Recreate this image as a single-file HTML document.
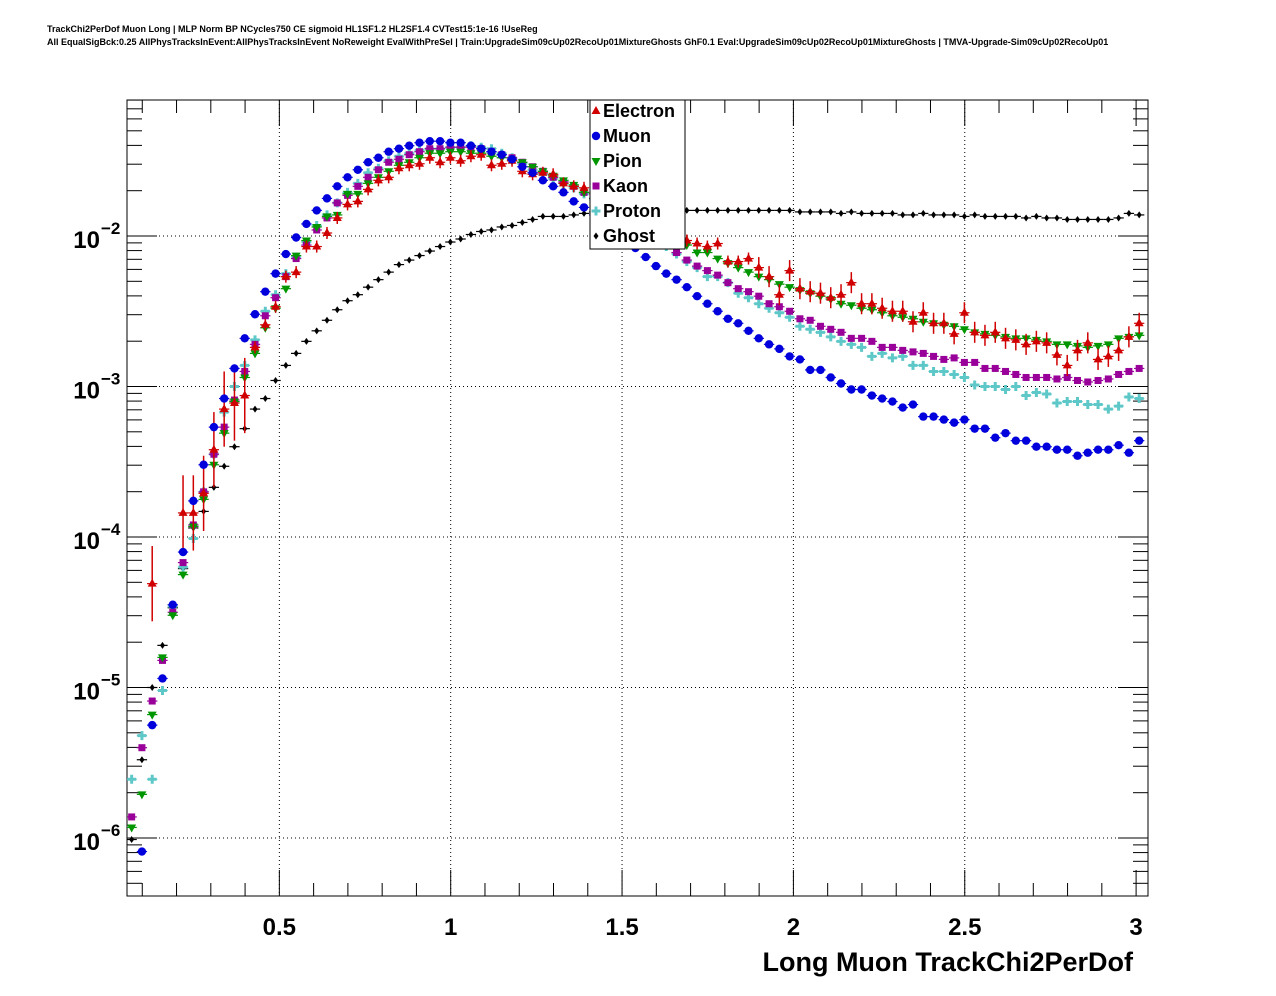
<!DOCTYPE html>
<html><head><meta charset="utf-8"><style>
html,body{margin:0;padding:0;background:#fff;}
svg{display:block;font-family:"Liberation Sans",sans-serif;}
</style></head><body>
<svg id="chart" width="1276" height="996" viewBox="0 0 1276 996" xmlns="http://www.w3.org/2000/svg">
<rect x="0" y="0" width="1276" height="996" fill="#fff"/>
<text x="47" y="32" font-size="9" font-weight="bold">TrackChi2PerDof Muon Long | MLP Norm BP NCycles750 CE sigmoid HL1SF1.2 HL2SF1.4 CVTest15:1e-16 !UseReg</text>
<text x="47" y="45" font-size="9" font-weight="bold">All EqualSigBck:0.25 AllPhysTracksInEvent:AllPhysTracksInEvent NoReweight EvalWithPreSel | Train:UpgradeSim09cUp02RecoUp01MixtureGhosts GhF0.1 Eval:UpgradeSim09cUp02RecoUp01MixtureGhosts | TMVA-Upgrade-Sim09cUp02RecoUp01</text>
<rect x="127" y="100" width="1021" height="796" fill="none" stroke="#000" stroke-width="1"/>
<g id="grid"></g>
<g id="axes"></g>
<g id="marks"></g>
<text x="1133" y="971" font-size="27" font-weight="bold" text-anchor="end">Long Muon TrackChi2PerDof</text>
<g>
<rect x="590" y="100" width="95" height="149" fill="#fff" stroke="#000" stroke-width="1"/>
<g id="legend-items"></g>
</g>
</svg>
<script>
// bin centers: 0.069 + 0.03*i (99 bins); values given as log10 of normalized entries
const binStart = 0.069, binWidth = 0.03;
const seriesNames = ["Electron","Muon","Pion","Kaon","Proton","Ghost"];
const xTicks = [0.5,1,1.5,2,2.5,3];
const xTickLabels = ["0.5","1","1.5","2","2.5","3"];
const yDecades = [-2,-3,-4,-5,-6];
const N = null;
const electronLog = [N,N,-4.31,N,N,-3.84,-3.84,-3.71,-3.42,-3.15,-3.11,-3.06,-2.74,-2.59,-2.47,-2.27,-2.24,-2.07,-2.07,-1.98,-1.88,-1.79,-1.77,-1.69,-1.63,-1.61,-1.55,-1.53,-1.52,-1.48,-1.51,-1.48,-1.50,-1.47,-1.46,-1.53,-1.52,-1.50,-1.57,-1.59,-1.58,-1.59,-1.65,-1.67,-1.68,-1.72,-1.76,-1.80,-1.84,-1.87,-1.90,-1.93,-1.96,-1.99,-2.03,-2.05,-2.07,-2.05,-2.17,-2.17,-2.15,-2.21,-2.27,-2.39,-2.23,-2.35,-2.37,-2.38,-2.41,-2.39,-2.31,-2.45,-2.45,-2.48,-2.50,-2.50,-2.57,-2.51,-2.58,-2.58,-2.65,-2.51,-2.64,-2.66,-2.64,-2.68,-2.69,-2.72,-2.70,-2.71,-2.79,-2.86,-2.76,-2.71,-2.82,-2.80,-2.76,-2.67,-2.58];
const muonLog = [N,-6.09,-5.25,-4.94,-4.45,-4.10,-3.76,-3.52,-3.27,-3.08,-2.88,-2.68,-2.52,-2.37,-2.25,-2.12,-2.01,-1.92,-1.83,-1.75,-1.67,-1.61,-1.56,-1.51,-1.48,-1.44,-1.42,-1.40,-1.38,-1.37,-1.37,-1.38,-1.38,-1.40,-1.42,-1.44,-1.46,-1.49,-1.54,-1.58,-1.63,-1.67,-1.71,-1.77,-1.81,-1.86,-1.91,-1.96,-2.02,-2.08,-2.14,-2.20,-2.25,-2.29,-2.34,-2.40,-2.45,-2.50,-2.55,-2.58,-2.63,-2.68,-2.72,-2.75,-2.80,-2.82,-2.89,-2.89,-2.94,-2.98,-3.02,-3.02,-3.06,-3.08,-3.10,-3.14,-3.12,-3.20,-3.20,-3.22,-3.24,-3.22,-3.28,-3.28,-3.34,-3.31,-3.36,-3.36,-3.40,-3.40,-3.42,-3.42,-3.46,-3.44,-3.42,-3.42,-3.39,-3.44,-3.36];
const pionLog = [-5.93,-5.71,-5.18,-4.80,-4.52,-4.25,-3.93,-3.75,-3.52,-3.31,-3.10,-2.94,-2.78,-2.61,-2.48,-2.35,-2.13,-2.03,-1.94,-1.87,-1.86,-1.72,-1.72,-1.65,-1.61,-1.57,-1.53,-1.51,-1.48,-1.45,-1.45,-1.44,-1.44,-1.45,-1.45,-1.47,-1.48,-1.50,-1.51,-1.54,-1.57,-1.60,-1.63,-1.66,-1.71,-1.75,-1.79,-1.83,-1.87,-1.91,-1.95,-1.98,-2.01,-2.04,-2.06,-2.11,-2.11,-2.15,-2.18,-2.21,-2.24,-2.27,-2.29,-2.32,-2.34,-2.36,-2.38,-2.40,-2.42,-2.45,-2.46,-2.48,-2.49,-2.51,-2.53,-2.54,-2.55,-2.57,-2.58,-2.59,-2.60,-2.62,-2.64,-2.65,-2.66,-2.67,-2.68,-2.68,-2.69,-2.70,-2.72,-2.72,-2.73,-2.74,-2.73,-2.72,-2.68,-2.67,-2.66];
const kaonLog = [-5.86,-5.40,-5.09,-4.82,-4.50,-4.17,-3.92,-3.70,-3.45,-3.27,-3.09,-2.90,-2.72,-2.53,-2.41,-2.27,-2.15,-2.06,-1.96,-1.88,-1.78,-1.73,-1.67,-1.61,-1.56,-1.51,-1.49,-1.46,-1.44,-1.42,-1.42,-1.41,-1.41,-1.41,-1.42,-1.44,-1.46,-1.48,-1.51,-1.54,-1.57,-1.61,-1.64,-1.67,-1.71,-1.75,-1.79,-1.83,-1.87,-1.91,-1.95,-1.99,-2.04,-2.11,-2.16,-2.20,-2.23,-2.26,-2.31,-2.35,-2.37,-2.40,-2.45,-2.47,-2.50,-2.55,-2.56,-2.60,-2.62,-2.64,-2.68,-2.68,-2.70,-2.74,-2.74,-2.76,-2.77,-2.78,-2.80,-2.82,-2.81,-2.84,-2.84,-2.88,-2.88,-2.90,-2.92,-2.94,-2.94,-2.94,-2.95,-2.94,-2.96,-2.97,-2.96,-2.95,-2.92,-2.90,-2.88];
const protonLog = [-5.61,-5.32,-5.61,-5.02,-4.46,-4.20,-4.01,-3.70,-3.45,-3.17,-3.00,-2.86,-2.69,-2.50,-2.39,-2.25,-2.14,-2.04,-1.93,-1.86,-1.78,-1.71,-1.65,-1.58,-1.55,-1.50,-1.47,-1.45,-1.43,-1.42,-1.42,-1.41,-1.41,-1.40,-1.41,-1.42,-1.45,-1.48,-1.52,-1.56,-1.59,-1.62,-1.65,-1.68,-1.72,-1.76,-1.80,-1.84,-1.88,-1.92,-1.97,-2.02,-2.07,-2.12,-2.17,-2.21,-2.27,-2.27,-2.31,-2.38,-2.41,-2.45,-2.48,-2.51,-2.54,-2.60,-2.62,-2.64,-2.67,-2.70,-2.72,-2.74,-2.80,-2.78,-2.81,-2.80,-2.86,-2.86,-2.90,-2.90,-2.92,-2.94,-2.99,-3.00,-3.00,-3.02,-3.00,-3.06,-3.04,-3.05,-3.11,-3.10,-3.10,-3.12,-3.12,-3.15,-3.13,-3.07,-3.08];
const ghostLog = [-6.01,-5.48,-5.00,-4.72,-4.47,-4.21,-3.94,-3.83,-3.67,-3.53,-3.40,-3.28,-3.15,-3.08,-2.96,-2.86,-2.78,-2.70,-2.63,-2.56,-2.49,-2.43,-2.39,-2.34,-2.29,-2.24,-2.19,-2.16,-2.13,-2.10,-2.07,-2.04,-2.02,-1.99,-1.97,-1.96,-1.94,-1.93,-1.91,-1.89,-1.87,-1.87,-1.87,-1.86,-1.85,-1.84,-1.83,-1.83,-1.82,-1.82,-1.82,-1.82,-1.82,-1.82,-1.83,-1.83,-1.83,-1.83,-1.83,-1.83,-1.83,-1.83,-1.83,-1.83,-1.83,-1.84,-1.84,-1.84,-1.84,-1.85,-1.84,-1.85,-1.85,-1.85,-1.85,-1.86,-1.86,-1.85,-1.86,-1.86,-1.86,-1.87,-1.86,-1.87,-1.87,-1.87,-1.87,-1.88,-1.87,-1.88,-1.88,-1.89,-1.89,-1.89,-1.89,-1.89,-1.88,-1.85,-1.86];

const NS="http://www.w3.org/2000/svg";
const PX0=127, PX1=1148, PY0=100, PY1=896;
function xPos(v){ return 108 + v*342.7; }
function yPos(lg){ return 236 + (-2 - lg)*150.5; }
function mk(tag, attrs, parent){ const e=document.createElementNS(NS,tag); for(const k in attrs) e.setAttribute(k, attrs[k]); parent.appendChild(e); return e; }
const grid=document.getElementById('grid'), axes=document.getElementById('axes'), marks=document.getElementById('marks');

xTicks.forEach(v=>{ if(v>=3) return; const l=mk('line',{x1:xPos(v),x2:xPos(v),y1:PY0,y2:PY1,stroke:'#000','stroke-width':1,'stroke-dasharray':'1,3'},grid);

 });
yDecades.forEach(d=>{ const l=mk('line',{x1:PX0,x2:PX1,y1:yPos(d),y2:yPos(d),stroke:'#000','stroke-width':1,'stroke-dasharray':'1,3'},grid);

 });

for(let t=1;t<=30;t++){ const v=t/10; const x=xPos(v); if(x<PX0||x>PX1) continue; const major=(t%5===0); const len=major?26:13;
 const a=mk('line',{x1:x,x2:x,y1:PY1,y2:PY1-len,stroke:'#000','stroke-width':1},axes);
 
 
 const b=mk('line',{x1:x,x2:x,y1:PY0,y2:PY0+len,stroke:'#000','stroke-width':1},axes);
 
  }
xTicks.forEach((v,i)=>{ const tx=mk('text',{x:xPos(v),y:935,'font-size':24,'font-weight':'bold','text-anchor':'middle'},axes); tx.textContent=xTickLabels[i];
 
  });
for(let d=-7; d<=-1; d++){ for(let m=1;m<=9;m++){ const lg=d+Math.log10(m); const y=yPos(lg); if(y<PY0||y>PY1) continue; const len=(m===1)?30:15;
 const a=mk('line',{x1:PX0,x2:PX0+len,y1:y,y2:y,stroke:'#000','stroke-width':1},axes);
 
 
 const b=mk('line',{x1:PX1,x2:PX1-len,y1:y,y2:y,stroke:'#000','stroke-width':1},axes);
 
  } }
yDecades.forEach(d=>{ const y=yPos(d); const tx=mk('text',{x:100,y:y+12,'font-size':24,'font-weight':'bold','text-anchor':'end'},axes); tx.textContent='10';
 
 
 const sup=mk('text',{x:101,y:y-2,'font-size':17,'font-weight':'bold','text-anchor':'start'},axes); sup.textContent=String(d).replace('-','\u2212');
 
  });

const colors={Electron:'#d00000',Muon:'#0000dd',Pion:'#009600',Kaon:'#990099',Proton:'#5ec8c8',Ghost:'#000'};
function marker(name,x,y,parent){
 const c=colors[name]; let e;
 if(name==='Electron') e=mk('polygon',{points:`${x},${y-5} ${x-4.5},${y+3} ${x+4.5},${y+3}`,fill:c},parent);
 else if(name==='Muon') e=mk('circle',{cx:x,cy:y,r:4.2,fill:c},parent);
 else if(name==='Pion') e=mk('polygon',{points:`${x-4.5},${y-3} ${x+4.5},${y-3} ${x},${y+5}`,fill:c},parent);
 else if(name==='Kaon') e=mk('rect',{x:x-3.5,y:y-3.5,width:7,height:7,fill:c},parent);
 else if(name==='Proton') e=mk('path',{d:`M${x-4.5},${y-1.5}h3v-3h3v3h3v3h-3v3h-3v-3h-3z`,fill:c},parent);
 else e=mk('polygon',{points:`${x},${y-3.5} ${x+2.5},${y} ${x},${y+3.5} ${x-2.5},${y}`,fill:c},parent);
 return e;
}
const seriesData=[electronLog,muonLog,pionLog,kaonLog,protonLog,ghostLog];
const drawOrder=[5,4,3,2,0,1];
drawOrder.forEach(si=>{
 const name=seriesNames[si], arr=seriesData[si];
 const g=mk('g',{},marks);
 
 
 arr.forEach((lg,i)=>{ if(lg===null) return; const xv=binStart+binWidth*i; const x=xPos(xv), y=yPos(lg);
  if(x<PX0||x>PX1||y<PY0||y>PY1) return;
  const hx0=Math.max(PX0,xPos(xv-binWidth/2)), hx1=xPos(xv+binWidth/2);
  const h=mk('line',{x1:hx0,x2:hx1,y1:y,y2:y,stroke:colors[name],'stroke-width':1.2},g);
  
  
  if(name==='Electron'){ const err = i<12?0.25:(i>60?0.07:0.04);
   const v=mk('line',{x1:x,x2:x,y1:Math.max(PY0,yPos(lg+err)),y2:Math.min(PY1,yPos(lg-err)),stroke:colors[name],'stroke-width':1.5},g);
   
    }
  const m=marker(name,x,y,g);
  
  
 });
});

const li=document.getElementById('legend-items');
seriesNames.forEach((name,i)=>{ const y=111+25*i;
 const m=marker(name,596,y,li);
 
 
 const t=mk('text',{x:603,y:y+6,'font-size':18,'font-weight':'bold'},li); t.textContent=name;
 
 
});
</script>
</body></html>
